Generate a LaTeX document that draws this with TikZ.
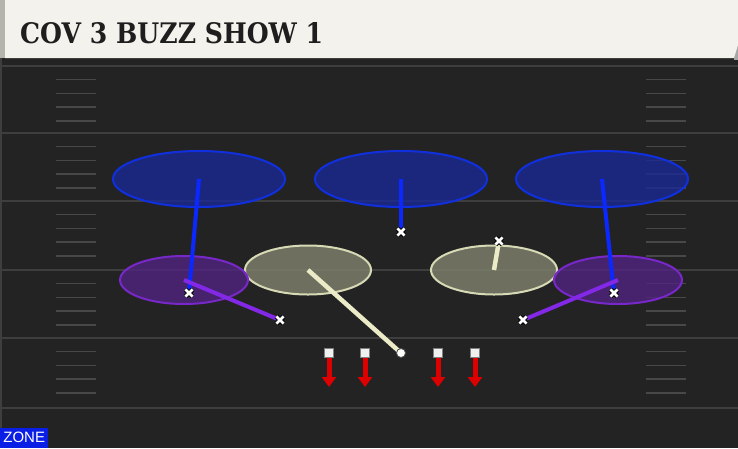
\documentclass[tikz,border=0pt]{standalone}
\usepackage{fontspec}
\usetikzlibrary{shapes.geometric,arrows.meta}
\newfontfamily\titlefont{DejaVu Serif}
\newfontfamily\zonefont{Liberation Sans}
\definecolor{fieldbg}{RGB}{35,35,35}
\definecolor{yardline}{RGB}{62,62,62}
\definecolor{hashc}{RGB}{72,72,72}
\definecolor{barbg}{RGB}{244,242,236}
\definecolor{barstrip}{RGB}{180,180,172}
\definecolor{titletxt}{RGB}{30,30,30}
\definecolor{bluefill}{RGB}{25,41,147}
\definecolor{bluebd}{RGB}{16,48,224}
\definecolor{blueln}{RGB}{10,40,255}
\definecolor{purpfill}{RGB}{81,36,129}
\definecolor{purpbd}{RGB}{120,40,200}
\definecolor{purpln}{RGB}{130,40,230}
\definecolor{khakifill}{RGB}{129,131,110}
\definecolor{khakibd}{RGB}{215,218,180}
\definecolor{khakiln}{RGB}{235,235,200}
\definecolor{redarrow}{RGB}{220,0,0}
\definecolor{zonebg}{RGB}{10,30,230}
\begin{document}
\begin{tikzpicture}[x=1pt,y=-1pt,
  deepzone/.style={ellipse, draw=bluebd, fill=bluefill, fill opacity=0.8, line width=2pt, minimum width=172pt, minimum height=56pt, inner sep=0pt},
  hookzone/.style={ellipse, draw=purpbd, fill=purpfill, fill opacity=0.8, line width=2pt, minimum width=128pt, minimum height=48pt, inner sep=0pt},
  curlzone/.style={ellipse, draw=khakibd, fill=khakifill, fill opacity=0.8, line width=2pt, minimum width=126pt, minimum height=49pt, inner sep=0pt},
  blueline/.style={draw=blueln, line width=4pt},
  purpline/.style={draw=purpln, line width=4pt},
  khakiline/.style={draw=khakiln, line width=4.5pt},
  rushbox/.style={rectangle, fill=white!94!black, draw=gray, line width=0.6pt, minimum size=8.5pt, inner sep=0pt},
  rusharrow/.style={draw=redarrow, line width=5pt, -{Triangle[width=14pt,length=10pt]}},
  xout/.style={draw=black, line width=4.6pt},
  xin/.style={draw=white, line width=2.8pt},
  yardln/.style={draw=yardline, line width=2pt},
  hashln/.style={draw=hashc, line width=1.6pt}
]
\useasboundingbox (0,0) rectangle (738,448);
% background
\fill[fieldbg] (0,0) rectangle (738,448);
\fill[yardline] (0,58) rectangle (2,448);
% yard lines
\foreach \y in {66,133,201,270,338,408} {
  \draw[yardln] (2,\y) -- (738,\y);
}
% hash marks
\foreach \y in {66,133,201,270,338} {
  \foreach \o in {13.5,27.5,41,55} {
    \draw[hashln] (56,\y+\o) -- (96,\y+\o);
    \draw[hashln] (646,\y+\o) -- (686,\y+\o);
  }
}
% title bar
\fill[gray!70] (730,38) rectangle (738,60);
\fill[barstrip] (0,0) rectangle (5,58);
\fill[black!85] (5,58) rectangle (734,60);
\fill[barbg] (5,0) -- (738,0) -- (738,45) -- (734,58) -- (5,58) -- cycle;
\node[anchor=base west, inner sep=0pt, text=titletxt] (title) at (20,43)
  {\resizebox{303pt}{21pt}{\titlefont\bfseries COV 3 BUZZ SHOW 1}};
% zones
\node[deepzone] (dl) at (199,179) {};
\node[deepzone] (dm) at (401,179) {};
\node[deepzone] (dr) at (602,179) {};
\node[curlzone] (kl) at (308,270) {};
\node[curlzone] (kr) at (494,270) {};
\node[hookzone] (pl) at (184,280) {};
\node[hookzone] (pr) at (618,280) {};
% end points
\coordinate (m1) at (189,293);
\coordinate (m2) at (401,232);
\coordinate (m3) at (614,293);
\coordinate (m4) at (280,320);
\coordinate (m5) at (523,320);
\coordinate (m6) at (499,241);
\coordinate (dot) at (401,353);
% drops
\draw[blueline] (dl.center) -- (m1);
\draw[blueline] (dm.center) -- (m2);
\draw[blueline] (dr.center) -- (m3);
\draw[purpline] (pl.center) -- (m4);
\draw[purpline] (pr.center) -- (m5);
\draw[khakiline] (kl.center) -- (dot);
\draw[khakiline] (kr.center) -- (m6);
% markers
\foreach \m in {m1,m2,m3,m4,m5,m6} {
  \draw[xout] ([shift={(-3.6,-3.6)}]\m) -- ([shift={(3.6,3.6)}]\m);
  \draw[xout] ([shift={(-3.6,3.6)}]\m) -- ([shift={(3.6,-3.6)}]\m);
  \draw[xin] ([shift={(-3.6,-3.6)}]\m) -- ([shift={(3.6,3.6)}]\m);
  \draw[xin] ([shift={(-3.6,3.6)}]\m) -- ([shift={(3.6,-3.6)}]\m);
}
\node[circle, fill=white!90!khakiln, draw=black!70, line width=0.8pt, minimum size=9pt, inner sep=0pt] (ball) at (dot) {};
% rushers
\foreach \i/\x in {1/329,2/365,3/438,4/475} {
  \node[rushbox] (sq\i) at (\x,353) {};
  \coordinate (t\i) at (\x,387);
  \draw[rusharrow] (sq\i.south) -- (t\i);
}
% zone tag
\node[fill=zonebg, text=white, anchor=south west, minimum width=48pt, minimum height=20pt, inner sep=0pt, font=\zonefont\fontsize{15}{15}\selectfont] (zone) at (0,448) {ZONE};
\end{tikzpicture}
\end{document}
